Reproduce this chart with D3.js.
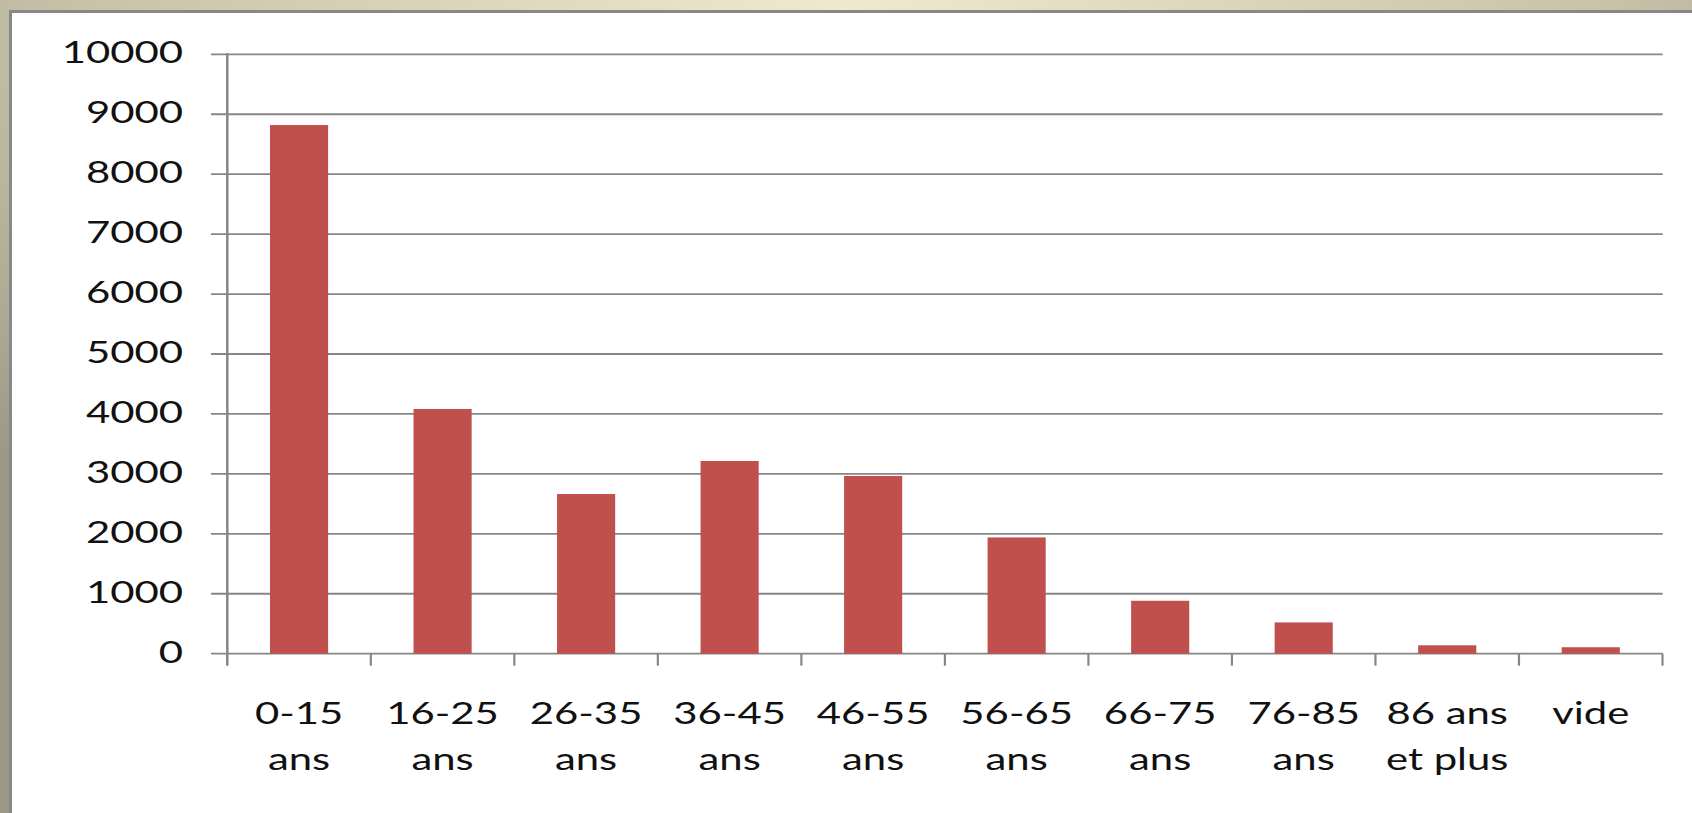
<!DOCTYPE html>
<html>

<head>
    <script src="https://d3js.org/d3.v7.min.js" charset="utf-8"></script>
    <style>
        body {
            margin: 0;
            overflow: hidden;
        }

        svg {
            display: block;
            font-family: "Lato", "Open Sans", sans-serif;
        }

        .lbl {
            font-size: 31px;
            font-weight: 400;
            fill: #111;
        }
    </style>
</head>

<body>
    <script>
        // categories are split in two lines like the source chart
        var categories = ["0-15|ans", "16-25|ans", "26-35|ans", "36-45|ans", "46-55|ans",
            "56-65|ans", "66-75|ans", "76-85|ans", "86 ans|et plus", "vide"];
        var values = [8820, 4083, 2664, 3215, 2965, 1940, 883, 522, 140, 108];
        var yTicks = [0, 1000, 2000, 3000, 4000, 5000, 6000, 7000, 8000, 9000, 10000];

        var W = 1692, H = 813;
        var stretch = 1.35; // text in the picture is wide

        var svg = d3.select("body")
            .append("svg")
            .attr("width", W)
            .attr("height", H);

        // background frame (beige band on top and left, gray border)
        var defs = svg.append("defs");
        var grad = defs.append("radialGradient")
            .attr("id", "bg")
            .attr("cx", "0.5").attr("cy", "0")
            .attr("r", "0.75");
        grad.append("stop").attr("offset", "0%").attr("stop-color", "#f0e9d0");
        grad.append("stop").attr("offset", "60%").attr("stop-color", "#c9c2a9");
        grad.append("stop").attr("offset", "100%").attr("stop-color", "#9c9886");

        svg.append("rect").attr("width", W).attr("height", H).attr("fill", "url(#bg)");
        svg.append("rect").attr("x", 9).attr("y", 10).attr("width", W - 9).attr("height", H - 10).attr("fill", "#888888");
        svg.append("rect").attr("x", 12).attr("y", 13).attr("width", W - 12).attr("height", H - 13).attr("fill", "#ffffff");

        var x = d3.scaleBand()
            .domain(categories)
            .range([227.3, 1662.5])
            .padding(0);

        var y = d3.scaleLinear()
            .domain([0, 10000])
            .range([653.7, 54.3]);

        var barW = x.bandwidth() * 0.405;

        // gridlines
        svg.append("g")
            .selectAll("line")
            .data(yTicks)
            .enter()
            .append("line")
            .attr("x1", 211)
            .attr("x2", 1662.7)
            .attr("y1", function (d) { return y(d); })
            .attr("y2", function (d) { return y(d); })
            .attr("stroke", "#868686")
            .attr("stroke-width", 1.8);

        // y labels
        svg.append("g")
            .selectAll("text")
            .data(yTicks)
            .enter()
            .append("text")
            .attr("class", "lbl")
            .attr("text-anchor", "end")
            .attr("transform", function (d) {
                return "translate(183," + (y(d) + 9) + ") scale(" + stretch + ",1)";
            })
            .text(function (d) { return d; });

        // bars
        svg.append("g")
            .selectAll("rect")
            .data(values)
            .enter()
            .append("rect")
            .attr("x", function (d, i) { return x(categories[i]) + (x.bandwidth() - barW) / 2; })
            .attr("width", barW)
            .attr("y", function (d) { return y(d); })
            .attr("height", function (d) { return y(0) - y(d); })
            .attr("fill", "#c0504d");

        // axes lines
        svg.append("line")
            .attr("x1", x.range()[0]).attr("x2", x.range()[0])
            .attr("y1", y(10000) - 1).attr("y2", y(0) + 12)
            .attr("stroke", "#868686").attr("stroke-width", 2.5);

        var bounds = categories.map(function (c) { return x(c); }).concat([x.range()[1]]);
        svg.append("g")
            .selectAll("line")
            .data(bounds.slice(1))
            .enter()
            .append("line")
            .attr("x1", function (d) { return d; })
            .attr("x2", function (d) { return d; })
            .attr("y1", y(0))
            .attr("y2", y(0) + 12)
            .attr("stroke", "#868686")
            .attr("stroke-width", 2.2);

        // x labels
        var xl = svg.append("g")
            .selectAll("text")
            .data(categories)
            .enter()
            .append("text")
            .attr("class", "lbl")
            .attr("text-anchor", "middle")
            .attr("transform", function (d) {
                return "translate(" + (x(d) + x.bandwidth() / 2) + ",724) scale(" + stretch + ",1)";
            });

        xl.selectAll("tspan")
            .data(function (d) { return d.split("|"); })
            .enter()
            .append("tspan")
            .attr("x", 0)
            .attr("dy", function (d, i) { return i === 0 ? 0 : 46; })
            .text(function (d) { return d; });
    </script>
</body>

</html>
